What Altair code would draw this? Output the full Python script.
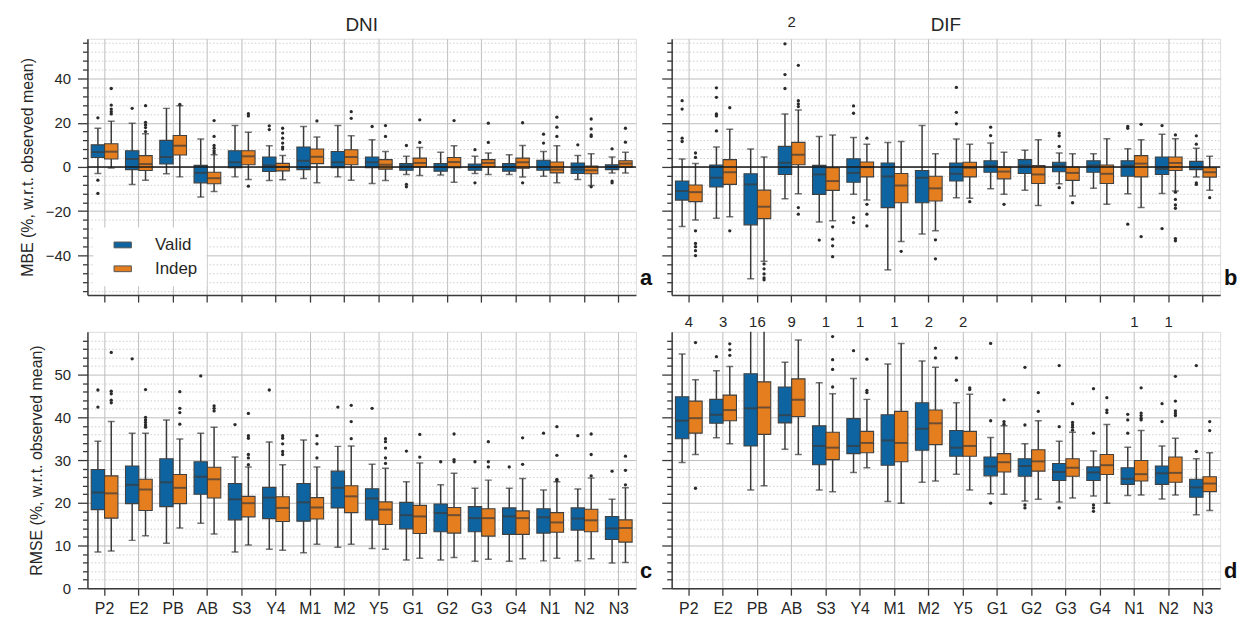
import altair as alt
import pandas as pd

CATS = ["P2", "E2", "PB", "AB", "S3", "Y4", "M1", "M2", "Y5", "G1", "G2", "G3", "G4", "N1", "N2", "N3"]
SERIES = ["Valid", "Indep"]
BLUE = "#0E64A0"
ORANGE = "#E57E1E"

# ---------------- Panel a: MBE, DNI ----------------
A_V_LO = [-3, -7.9, -3.1, -13.6, -4.5, -6.1, -5.2, -4.5, -7.5, -3.4, -3.7, -3, -3.4, -4.2, -5.7, -2.7]
A_V_Q1 = [4.3, -1.2, 1.3, -7.2, -0.4, -2.1, -1.2, -0.4, -0.4, -1.5, -1.9, -1.5, -1.9, -1.5, -3, -1.2]
A_V_MED = [6.7, 3.6, 4.5, -2.7, 2.1, 0.7, 2.8, 2.1, 2.1, 0.3, 0, 0, 0, 0, -1.2, 0.1]
A_V_Q3 = [10, 7.3, 12, 0.7, 7.3, 4.5, 9, 7, 4.5, 1.5, 1.5, 1.3, 1.5, 3, 1.8, 1]
A_V_HI = [17.5, 19.8, 26.5, 12.6, 18.7, 9.6, 18.3, 18.7, 12.3, 4.8, 6.6, 4.8, 5.5, 7, 5.2, 4.5]
A_V_OUT = [[22.2, -6, -12], [26.5], [], [], [], [18.6, 16.9], [], [], [18.3], [9.7, -7.9, -9],
           [], [7.8, -7.2], [], [14.8, 10.8], [10], [8.2, -6.4, -7.2]]
A_I_LO = [-0.5, -6, -4.5, -11.1, -5.7, -5.8, -7.2, -6, -6.1, -3.9, -6.9, -3.4, -4.6, -7.2, -8.4, -2.7]
A_I_Q1 = [3.6, -1.6, 5.4, -7.6, 1, -1.8, 1.5, 1, -1, 0, -0.3, 0, -0.6, -2.7, -3.1, -0.1]
A_I_MED = [6.9, 1.3, 9.6, -5.1, 4.8, 0, 4.6, 4.5, 1, 1.8, 2.2, 1.8, 2.1, -1.2, -1.5, 1.5]
A_I_Q3 = [10.5, 5.1, 14.2, -2.4, 7.3, 1.6, 8.1, 7.8, 3.3, 4, 4.3, 3.3, 4, 2.2, 0.4, 2.8]
A_I_HI = [20.7, 15, 27.7, 5.5, 15.7, 5.2, 13.5, 14.1, 7, 8.8, 9.6, 6.3, 9.7, 9.6, 6, 6.6]
A_I_OUT = [[35.5, 28, 26.2, 25, 24], [27.7, 20.2, 19, 17.8, 16], [28.3], [21, 13.8, 9.7, 8.5, 7.3, 6.3],
           [24.1, 23.1, -8.7], [17.5, 15.3, 13, 10.8, 9, 8.1], [20.8], [25, 22], [18.7, 13.8], [21.3, 11.1],
           [21], [19.8, 11.1], [20, -7.2], [22.5, 18, 13.8], [21.7, 17.2, 14.5, 13.8, -9], [17.5, 11.2]]

# ---------------- Panel b: MBE, DIF ----------------
B_V_LO = [-27, -23.2, -50.6, -14.4, -24.9, -12.4, -46.6, -30.4, -13.9, -9.9, -10.6, -7.6, -9.7, -12.1, -12, -4.6]
B_V_Q1 = [-15, -9.1, -26.2, -3.4, -12.4, -6.9, -18.4, -16.2, -6.4, -2.4, -3, -2.2, -2.4, -4.2, -3.4, -1.2]
B_V_MED = [-10.9, -4.9, -7.9, 1.9, -3.4, -2.7, -4.3, -4.9, -3.1, 0.6, 0.7, 0.6, 0.7, 0.6, -0.9, -0.1]
B_V_Q3 = [-6.4, 0.9, -3.1, 9.3, 0.7, 3.7, 1.8, -1.6, 1.8, 2.8, 3.3, 2.1, 2.8, 2.8, 4.5, 2.5]
B_V_HI = [3.6, 9, 8.1, 24, 13.8, 13.3, 11.1, 18.7, 12.6, 10.8, 7.5, 6.3, 6, 8.2, 14.8, 8.5]
B_V_OUT = [[30, 26.2, 13, 11.5], [35.8, 31.5, 24, 23.1, 16.3], [], [55.7, 41.8, 35.5], [-33.1],
           [27.6, 24.3, -22.9, -25.2], [], [], [36, 24.7, 19.5], [18, 14.2], [], [15.3, 14.1, 9.3, -9.4],
           [], [18.3, 17.5, -25.9], [18.7, -27.9], [14.1, 10.3, -7.2, -7.9]]
B_I_LO = [-24, -22.5, -42.7, -12.1, -24.4, -15, -33.7, -28.9, -14.2, -12.4, -17.4, -13.2, -16.9, -18.4, -10.9, -10.6]
B_I_Q1 = [-15.7, -7.9, -23.4, 1, -10.6, -4.5, -16.2, -15.4, -4.5, -5.4, -7.5, -6.1, -7.5, -4.5, -1.6, -4.6]
B_I_MED = [-11.4, -2.4, -18, 5.5, -6.4, -0.1, -8.4, -9.7, -0.4, -2.1, -3.4, -2.7, -3.1, 1.5, 1.8, -2.4]
B_I_Q3 = [-8.2, 3.3, -10.5, 11.1, -0.4, 2.2, -3, -4.2, 2.1, 0, 0.6, 0, 0.9, 5.1, 4.5, -0.4]
B_I_HI = [1.5, 17.1, 4.5, 25.8, 14.5, 10.3, 11.5, 6, 10.3, 6.6, 12.3, 6, 12.7, 12.3, 12.7, 4.8]
B_I_OUT = [[6.3, 4.3, -28.9, -34.6, -36.1, -37.9, -40.1], [26.8, -28.9], [-43.9, -46.1, -48.4, -50.2, -51.1],
           [46, 30, 28.5, 27.3, -18.4, -21.4], [-27.1, -32.7, -35.7, -40.6], [13, -16.9, -21.4, -26.7],
           [-38.2], [-33, -41.6], [-15.7], [-16.9], [], [-16.2], [], [19.3, -31.5],
           [14.5, -11.4, -14.7, -17.2, -18.7, -32.4, -33.4], [-13.9]]
B_COUNT_CATS = ["AB"]
B_COUNT_TEXT = ["2"]

# ---------------- Panel c: RMSE, DNI ----------------
C_V_LO = [8.5, 11.2, 10.5, 15.2, 8.5, 9.1, 8.3, 9.6, 9.3, 6.6, 6.6, 6.3, 6.3, 6.4, 6.4, 5.9]
C_V_Q1 = [18.4, 19.8, 19.1, 22, 16, 16.3, 15.7, 18.8, 16, 13.9, 13.2, 13.2, 12.6, 12.9, 13.6, 11.4]
C_V_MED = [22.4, 24.2, 24.8, 26.1, 20.8, 21.2, 20.1, 23.5, 21, 17.1, 17.6, 16.4, 16.8, 16.6, 16.3, 14]
C_V_Q3 = [27.8, 28.6, 30.3, 29.6, 24.5, 23.6, 24.5, 27.4, 23.3, 20.1, 19.7, 19.1, 18.8, 18.6, 18.8, 16.8]
C_V_HI = [34.4, 36.3, 39.4, 36.3, 30.7, 34.2, 34.7, 33.2, 29, 24.9, 24.2, 23.4, 23.4, 23, 23.2, 20.8]
C_V_OUT = [[46.4, 42.4], [53.7], [], [49.7], [38.3], [46.4], [], [42.4], [42.1], [32.1], [29.6], [29.6],
           [28.4], [36.3], [35.7], [27.4]]
C_I_LO = [8.7, 12.3, 14.1, 12.7, 10.1, 8.9, 10.3, 10.3, 9.1, 7, 7.2, 6.8, 6.9, 7, 6.9, 6]
C_I_Q1 = [16.4, 18.2, 19.8, 21.1, 16.7, 15.6, 16.2, 17.7, 14.9, 12.8, 12.9, 12.2, 12.6, 13.1, 13.2, 10.8]
C_I_MED = [22.2, 23.1, 23.5, 25.5, 19.9, 18.8, 18.9, 21.5, 18.4, 16.8, 17.1, 16.4, 16.4, 15.4, 15.9, 14.1]
C_I_Q3 = [26.3, 25.5, 26.6, 28.3, 21.5, 21.4, 21.2, 24, 20.2, 19.4, 18.9, 18.6, 18.1, 17.7, 18.5, 16]
C_I_HI = [39, 36.3, 34.9, 37.7, 28.4, 28.9, 28.4, 33.3, 28.1, 29.3, 26.9, 25.3, 25.7, 24.9, 25.8, 23.5]
C_I_OUT = [[55.2, 46.1, 45.5, 44, 43.4], [46.5, 40, 39.4, 38.8, 38.2, 37.7], [46, 42.1, 41.1, 38.4],
           [42.7, 42.1, 41.5], [40.9, 35.7, 35.1, 31.3, 30.5, 28.9], [35.7, 35.1, 33.8, 32, 31.3],
           [35.7, 33.8, 30.5], [42.8, 39, 35], [35, 34.3, 32.8, 30.5, 29.2], [36, 30.7], [36.1, 30.1, 29.6],
           [34.3, 29.6, 28.4], [35.2, 29], [37.8, 31.1, 25.5, 25.2], [36.1, 31.3, 26.3], [30.9, 27.6, 24.2]]

# ---------------- Panel d: RMSE, DIF ----------------
D_V_LO = [29.4, 35.2, 23, 32.5, 23, 27.1, 20.3, 24.8, 26.7, 22.1, 20.4, 20.2, 21.6, 21.7, 20.9, 17.2]
D_V_Q1 = [35, 38.6, 33.3, 38.7, 28.9, 31.5, 28.8, 32.3, 30.9, 26.3, 26.2, 25.2, 25.2, 24.3, 24.3, 21.3]
D_V_MED = [39.2, 40.6, 42.1, 40.5, 33.3, 33.3, 34.6, 37.3, 32.9, 28.5, 28.6, 27.2, 27.1, 25.6, 26.9, 23.6]
D_V_Q3 = [44.8, 44.2, 50.2, 47.1, 38, 39.7, 40.6, 43.4, 36.9, 30.7, 30.3, 29.2, 28.4, 28.2, 28.6, 25.5]
D_V_HI = [54.8, 50.9, 64, 52.9, 48.1, 49.1, 52.5, 53.2, 43.4, 35.3, 33.8, 34.4, 32.1, 33, 33.3, 30.3]
D_V_OUT = [[], [54.2], [], [], [], [55.6], [], [], [53.9, 48.7], [57.3, 39.2, 19.9], [51.7, 38.2, 19.5, 18.8],
           [52.1, 37.8, 18.8], [46.7, 36.3, 19.5, 18.8, 18], [40.7, 39.4, 36.3], [43.2, 39], [52.1, 32]]
D_I_LO = [31.3, 33.8, 24, 31.3, 22.6, 28.2, 19.9, 25.1, 23, 22, 20.8, 21.1, 19.9, 21.8, 21.8, 18.2]
D_I_Q1 = [36.3, 39.2, 36, 40.2, 30.1, 31.7, 29.6, 33.6, 30.9, 27.2, 27.4, 26.2, 26.6, 25.1, 24.8, 22.6]
D_I_MED = [39.8, 41.7, 42.3, 44.1, 32.9, 34, 34, 38.6, 33.3, 29.5, 29.7, 28.2, 28.8, 26.7, 27, 24.5]
D_I_Q3 = [43.8, 45.2, 48.3, 49, 36.5, 36.7, 41.4, 41.7, 36.7, 31.5, 32.4, 30.3, 31.3, 29.9, 30.7, 26.1]
D_I_HI = [48.8, 51.9, 64, 58.1, 45.5, 44.2, 57.3, 51.7, 45.4, 38, 39.2, 36.5, 38.3, 36.9, 35.1, 31.7]
D_I_OUT = [[57.5, 23.4], [57.2, 55.8, 54.5], [], [], [58.9, 53.5, 51.2, 47.1], [53.6, 46.3, 45.8], [],
           [56.2, 53.9], [46.9, 46.5], [44.1, 39, 38.4], [45.8, 41.4], [43.2, 38.8, 38.2, 37.7, 37],
           [44.6, 41.7, 41.1], [46.9, 41, 40.4, 39.8, 39.4], [49.6, 43.8, 41.5, 40.9, 40.4], [39, 36.9]]
D_COUNT_CATS = ["P2", "E2", "PB", "AB", "S3", "Y4", "M1", "M2", "Y5", "N1", "N2"]
D_COUNT_TEXT = ["4", "3", "16", "9", "1", "1", "1", "2", "2", "1", "1"]

MBE_TITLE = "MBE (%, w.r.t. observed mean)"
RMSE_TITLE = "RMSE (%, w.r.t. observed mean)"

FONT = "Liberation Sans"
TXT = "#262626"
EDGE = "#3a3a3a"
W, H = 552, 258


def box_frame(valid, indep):
    rows = []
    for name, st in (("Valid", valid), ("Indep", indep)):
        lo, q1, med, q3, hi = st
        for i, c in enumerate(CATS):
            rows.append(dict(cat=c, series=name, lo=lo[i], q1=q1[i], med=med[i], q3=q3[i], hi=hi[i]))
    return pd.DataFrame(rows)


def out_frame(vout, iout):
    rows = []
    for name, outs in (("Valid", vout), ("Indep", iout)):
        for i, c in enumerate(CATS):
            for v in outs[i]:
                rows.append(dict(cat=c, series=name, v=v))
    return pd.DataFrame(rows)


def panel(valid, indep, vout, iout, domain, step_minor, step_major, left, bottom,
          ytitle, letter, title=None, zero=False, counts=None, legend=False, count_y=-3):
    bdf = box_frame(valid, indep)
    odf = out_frame(vout, iout)
    lo_t = -int(abs(domain[0]) // step_minor) * step_minor if domain[0] < 0 else 0
    hi_t = int(domain[1] // step_minor) * step_minor
    if hi_t >= domain[1]:
        hi_t -= step_minor
    vals = list(range(int(lo_t), int(hi_t) + 1, step_minor))
    major = f"datum.value % {step_major} === 0"
    yaxis = alt.Axis(
        values=vals,
        labelExpr=f"{major} ? datum.label : ''" if left else "''",
        labels=left,
        title=ytitle if left else None,
        tickSize={"condition": {"test": major, "value": 10}, "value": 5},
        tickColor=EDGE, tickWidth=1.3,
        grid=True,
        gridDash={"condition": {"test": major, "value": []}, "value": [1.5, 2]},
        gridColor={"condition": {"test": major, "value": "#bdbdbd"}, "value": "#cfcfcf"},
        gridWidth=1,
        domainColor=EDGE, domainWidth=1.5,
        labelFontSize=15, labelColor=TXT, labelFont=FONT, labelPadding=7,
        titleFontSize=16, titleColor=TXT, titleFont=FONT, titleFontWeight="normal", titlePadding=10,
    )
    xaxis = alt.Axis(
        title=None, labels=bottom, labelAngle=0, labelFontSize=16, labelColor=TXT, labelFont=FONT,
        labelPadding=5, ticks=True, tickSize=7, tickColor=EDGE, tickWidth=1.3, bandPosition=0.5,
        grid=True, gridColor="#bdbdbd", gridWidth=1, domainColor=EDGE, domainWidth=1.5,
    )
    yscale = alt.Scale(domain=domain, nice=False, zero=False)
    xscale = alt.Scale(domain=CATS, paddingInner=0.22, paddingOuter=0.11)
    X = alt.X("cat:N", scale=xscale, axis=xaxis, sort=CATS)
    XO = alt.XOffset("series:N", sort=SERIES, scale=alt.Scale(domain=SERIES, paddingInner=0, paddingOuter=0))

    def Y(f):
        return alt.Y(f"{f}:Q", scale=yscale, axis=yaxis)

    base = alt.Chart(bdf)
    layers = []
    whisk = base.mark_rule(color=EDGE, strokeWidth=1.5, clip=True).encode(x=X, xOffset=XO, y=Y("lo"), y2="hi:Q")
    cap_lo = base.mark_tick(orient="horizontal", size=7, thickness=1.5, color=EDGE, clip=True).encode(
        x=X, xOffset=XO, y=Y("lo"))
    cap_hi = base.mark_tick(orient="horizontal", size=7, thickness=1.5, color=EDGE, clip=True).encode(
        x=X, xOffset=XO, y=Y("hi"))
    if legend:
        leg = alt.Legend(title=None, orient="none", legendX=6, legendY=190,
                         symbolType="M-1.5,-0.5H1.5V0.5H-1.5Z", symbolSize=135,
                         symbolStrokeColor="#555555", symbolStrokeWidth=1, symbolOpacity=1,
                         labelFontSize=17, labelColor=TXT, labelFont=FONT, labelOffset=24,
                         symbolOffset=12, fillColor="white", padding=9, rowPadding=6)
    else:
        leg = None
    box = base.mark_bar(stroke="#404040", strokeWidth=1.1, opacity=1, clip=True).encode(
        x=X, xOffset=XO, y=Y("q1"), y2="q3:Q",
        color=alt.Color("series:N", sort=SERIES,
                        scale=alt.Scale(domain=SERIES, range=[BLUE, ORANGE]), legend=leg))
    med = base.mark_tick(orient="horizontal", size=13, thickness=2, color="#3a3a3a").encode(
        x=X, xOffset=XO, y=Y("med"))
    pts = alt.Chart(odf).mark_circle(size=11, color="#2a2a2a", opacity=1).encode(
        x=X, xOffset=XO, y=Y("v"))
    layers += [whisk, cap_lo, cap_hi, box, med]
    if zero:
        layers.append(alt.Chart(pd.DataFrame({"z": [0]})).mark_rule(color="#1a1a1a", strokeWidth=1.6)
                      .encode(y=Y("z")))
    layers.append(pts)
    if counts:
        cdf = pd.DataFrame({"cat": counts[0], "t": counts[1]})
        layers.append(alt.Chart(cdf).mark_text(fontSize=15, color=TXT, font=FONT, baseline="bottom").encode(
            x=X, y=alt.value(count_y), text="t:N"))
    ldf = pd.DataFrame({"t": [letter]})
    layers.append(alt.Chart(ldf).mark_text(fontSize=22, fontWeight="bold", color="#111", font=FONT,
                                           align="left", baseline="bottom").encode(
        x=alt.value(W + 4), y=alt.value(H - 5), text="t:N"))
    if title:
        tdf = pd.DataFrame({"t": [title]})
        layers.append(alt.Chart(tdf).mark_text(fontSize=19, color=TXT, font=FONT, align="center",
                                               baseline="bottom").encode(
            x=alt.value(W / 2), y=alt.value(-4), text="t:N"))
    return alt.layer(*layers).properties(width=W, height=H)


pa = panel((A_V_LO, A_V_Q1, A_V_MED, A_V_Q3, A_V_HI), (A_I_LO, A_I_Q1, A_I_MED, A_I_Q3, A_I_HI),
           A_V_OUT, A_I_OUT, [-58, 58], 4, 20, True, False, MBE_TITLE, "a", title="DNI", zero=True, legend=True)
pb = panel((B_V_LO, B_V_Q1, B_V_MED, B_V_Q3, B_V_HI), (B_I_LO, B_I_Q1, B_I_MED, B_I_Q3, B_I_HI),
           B_V_OUT, B_I_OUT, [-58, 58], 4, 20, False, False, MBE_TITLE, "b", title="DIF", zero=True,
           counts=(B_COUNT_CATS, B_COUNT_TEXT), count_y=-9)
pc = panel((C_V_LO, C_V_Q1, C_V_MED, C_V_Q3, C_V_HI), (C_I_LO, C_I_Q1, C_I_MED, C_I_Q3, C_I_HI),
           C_V_OUT, C_I_OUT, [0, 60], 2, 10, True, True, RMSE_TITLE, "c")
pd_ = panel((D_V_LO, D_V_Q1, D_V_MED, D_V_Q3, D_V_HI), (D_I_LO, D_I_Q1, D_I_MED, D_I_Q3, D_I_HI),
            D_V_OUT, D_I_OUT, [0, 60], 2, 10, False, True, RMSE_TITLE, "d",
            counts=(D_COUNT_CATS, D_COUNT_TEXT), count_y=-2)

chart = alt.concat(pa, pb, pc, pd_, columns=2, spacing={"row": 37, "column": 36}, bounds="flush").resolve_scale(
    color="independent"
).properties(
    padding={"left": 19, "top": 12, "right": 5, "bottom": 5}, background="white"
).configure_view(stroke=None).configure(font=FONT)

chart.save("out.html", embed_options={"renderer": "svg", "actions": False})
